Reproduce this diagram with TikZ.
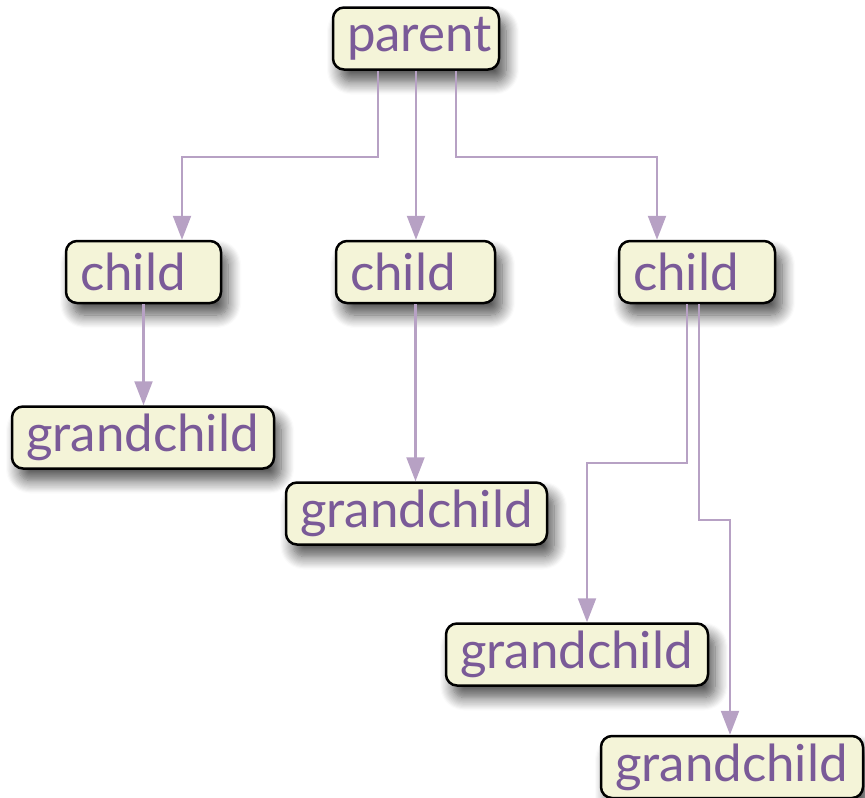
\documentclass[tikz,border=0pt]{standalone}
\usepackage{fontspec}
\setmainfont{Lato}
\usetikzlibrary{arrows.meta,shadows.blur}
\definecolor{boxfill}{HTML}{F4F4D8}
\definecolor{txt}{HTML}{7A5A98}
\definecolor{edgec}{HTML}{B7A1C4}
\tikzset{
  box/.style={draw=black, line width=2.5pt, fill=boxfill, rounded corners=11pt,
    text=txt, inner xsep=14pt, inner ysep=0pt, minimum height=62pt, align=left,
    font=\fontsize{51}{56}\selectfont,
    blur shadow={shadow xshift=7pt, shadow yshift=-12pt, shadow blur radius=13pt, shadow blur steps=12, shadow opacity=70}},
  edge/.style={draw=edgec, line width=2.2pt, -{Triangle[length=24pt,width=18pt]}}
}
\begin{document}
\begin{tikzpicture}[x=1pt,y=-1pt]
\useasboundingbox (0,0) rectangle (865,798);
\node[box, text width=138pt] (parent) at (416,38.5) {parent};
\node[box, text width=127pt] (c1) at (143.5,272) {child};
\node[box, text width=131pt] (c2) at (415.5,272) {child};
\node[box, text width=128pt] (c3) at (697,272) {child};
\node[box, text width=234pt] (g1) at (143,437.5) {grandchild};
\node[box, text width=233pt] (g2) at (416.5,513.5) {grandchild};
\node[box, text width=234pt] (g3) at (577,654.5) {grandchild};
\node[box, text width=234pt] (g4) at (732,767) {grandchild};
\draw[edge] ([xshift=-38pt]parent.south) -- ++(0,86) -| ([xshift=38.5pt]c1.north);
\draw[edge] (parent.south) -- (c2.north -| parent.south);
\draw[edge] ([xshift=40pt]parent.south) -- ++(0,86) -| ([xshift=-40pt]c3.north);
\draw[edge] (c1.south) -- (g1.north -| c1.south);
\draw[edge] (c2.south) -- (g2.north -| c2.south);
\draw[edge] ([xshift=-10pt]c3.south) -- ++(0,159) -| ([xshift=10pt]g3.north);
\draw[edge] ([xshift=2pt]c3.south) -- ++(0,216) -| ([xshift=-2pt]g4.north);
\end{tikzpicture}
\end{document}
